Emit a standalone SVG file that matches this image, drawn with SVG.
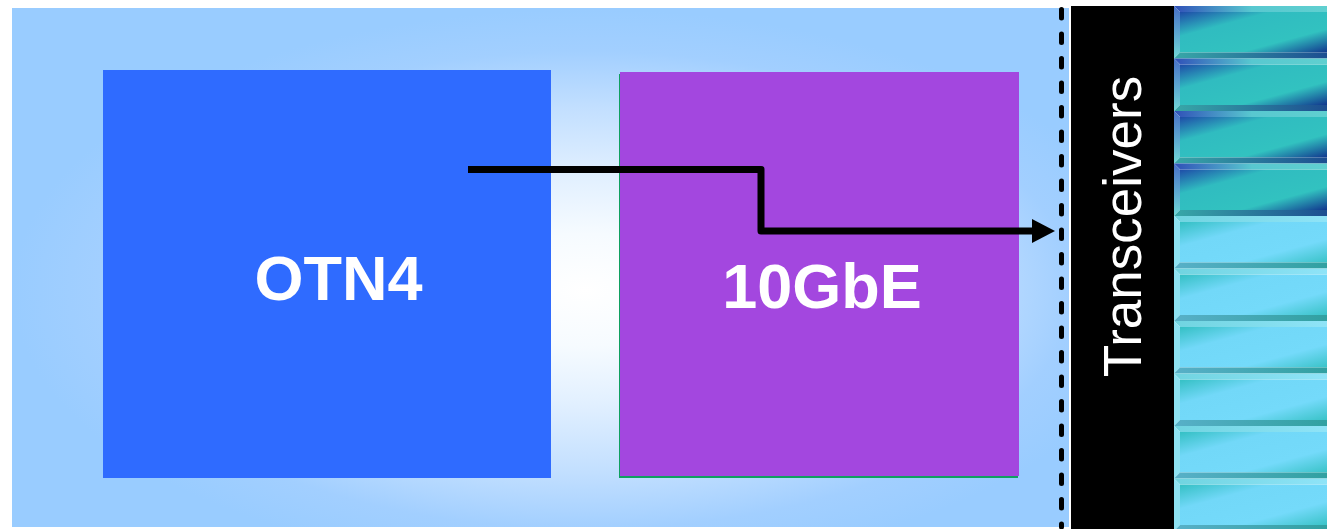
<svg xmlns="http://www.w3.org/2000/svg" width="1327" height="529" viewBox="0 0 1327 529">
  <style>
    .lbl { font-family: "Liberation Sans", Arial, sans-serif; fill: #FFFFFF; }
    .big { font-size: 63px; font-weight: bold; text-anchor: middle; }
    .conn { fill: none; stroke: #000000; stroke-width: 7; stroke-linejoin: round; }
  </style>
  <defs>
    <radialGradient id="bg" cx="585" cy="290" r="573" gradientUnits="userSpaceOnUse" gradientTransform="translate(585 290) scale(1 0.49) translate(-585 -290)">
      <stop offset="0" stop-color="#FFFFFF"/>
      <stop offset="0.2" stop-color="#F6FBFF"/>
      <stop offset="0.4" stop-color="#E2F0FF"/>
      <stop offset="0.65" stop-color="#C2DFFF"/>
      <stop offset="0.85" stop-color="#A2CFFF"/>
      <stop offset="1" stop-color="#99CCFF"/>
    </radialGradient>
    <linearGradient id="faceDark" x1="0" y1="0" x2="1" y2="1">
      <stop offset="0" stop-color="#1E4CA8"/>
      <stop offset="0.3" stop-color="#30BCC0"/>
      <stop offset="0.7" stop-color="#32C2C0"/>
      <stop offset="1" stop-color="#10328C"/>
    </linearGradient>
    <linearGradient id="faceLight" x1="0" y1="0" x2="1" y2="1">
      <stop offset="0" stop-color="#34C0C4"/>
      <stop offset="0.3" stop-color="#72D8F8"/>
      <stop offset="0.7" stop-color="#74DAFA"/>
      <stop offset="1" stop-color="#38C2C6"/>
    </linearGradient>
    <linearGradient id="topDark" x1="0" y1="0" x2="1" y2="0">
      <stop offset="0" stop-color="#3050B8"/>
      <stop offset="0.5" stop-color="#58C8D0"/>
      <stop offset="1" stop-color="#60D0D0"/>
    </linearGradient>
    <linearGradient id="leftDark" x1="0" y1="0" x2="0" y2="1">
      <stop offset="0" stop-color="#4870C8"/>
      <stop offset="1" stop-color="#70D8D8"/>
    </linearGradient>
    <linearGradient id="botDark" x1="0" y1="0" x2="1" y2="0">
      <stop offset="0" stop-color="#38A8A8"/>
      <stop offset="1" stop-color="#1C4C90"/>
    </linearGradient>
    <linearGradient id="topLight" x1="0" y1="0" x2="1" y2="0">
      <stop offset="0" stop-color="#70D4E0"/>
      <stop offset="1" stop-color="#90E4F8"/>
    </linearGradient>
    <linearGradient id="botLight" x1="0" y1="0" x2="1" y2="0">
      <stop offset="0" stop-color="#58B0C8"/>
      <stop offset="1" stop-color="#30A0A0"/>
    </linearGradient>
    <g id="tileDark">
      <rect x="6" y="6" width="150" height="40.5" fill="url(#faceDark)"/>
      <polygon points="0,0 156,0 156,6 6,6" fill="url(#topDark)"/>
      <polygon points="0,0 6,6 6,46.5 0,52.5" fill="url(#leftDark)"/>
      <polygon points="0,52.5 6,46.5 156,46.5 156,52.5" fill="url(#botDark)"/>
    </g>
    <g id="tileLight">
      <rect x="6" y="6" width="150" height="40.5" fill="url(#faceLight)"/>
      <polygon points="0,0 156,0 156,6 6,6" fill="url(#topLight)"/>
      <polygon points="0,0 6,6 6,46.5 0,52.5" fill="#8EE2F2"/>
      <polygon points="0,52.5 6,46.5 156,46.5 156,52.5" fill="url(#botLight)"/>
    </g>
  </defs>

  <rect id="background" x="12" y="8" width="1057" height="519" fill="url(#bg)"/>

  <g id="otn4">
    <rect x="103" y="70" width="448" height="408" fill="#2F6BFF"/>
    <text class="lbl big" x="338.5" y="300">OTN4</text>
  </g>

  <g id="gbe10">
    <rect x="619" y="74" width="399" height="404" fill="#0FA060"/>
    <rect x="620" y="72" width="399" height="404" fill="#A347DF"/>
    <text class="lbl big" x="822" y="308">10GbE</text>
  </g>

  <g id="transceivers">
    <rect x="1071" y="6" width="103" height="523" fill="#000000"/>
    <text class="lbl" font-size="53" text-anchor="middle" transform="translate(1141 226.5) rotate(-90)">Transceivers</text>
  </g>

  <g id="lanes">
    <use href="#tileDark" x="1174" y="6"/>
    <use href="#tileDark" x="1174" y="58.5"/>
    <use href="#tileDark" x="1174" y="111"/>
    <use href="#tileDark" x="1174" y="163.5"/>
    <use href="#tileLight" x="1174" y="216"/>
    <use href="#tileLight" x="1174" y="268.5"/>
    <use href="#tileLight" x="1174" y="321"/>
    <use href="#tileLight" x="1174" y="373.5"/>
    <use href="#tileLight" x="1174" y="426"/>
    <use href="#tileLight" x="1174" y="478.5"/>
  </g>

  <g id="connectors">
    <line x1="1061.5" y1="9.5" x2="1061.5" y2="527" stroke="#000000" stroke-width="5" stroke-linecap="round" stroke-dasharray="8.5 16"/>
    <polyline class="conn" points="468,169.5 761,169.5 761,231 1036,231"/>
    <polygon points="1055,231 1032,219 1032,243" fill="#000000"/>
  </g>
</svg>
